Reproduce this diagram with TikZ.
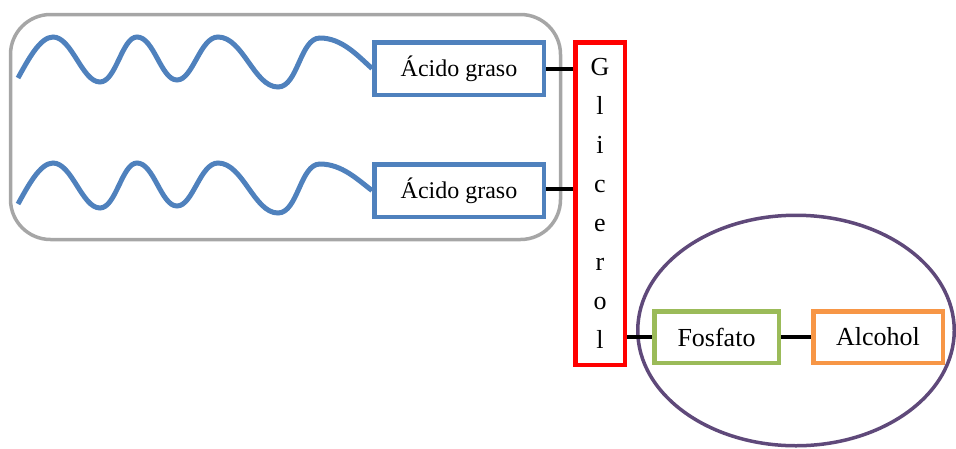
\documentclass[tikz,border=0pt]{standalone}
\usepackage{fontspec}
\setmainfont{Liberation Serif}
\usetikzlibrary{shapes.geometric,calc}
\definecolor{cblue}{HTML}{4F81BD}
\definecolor{cgray}{HTML}{A6A6A6}
\definecolor{cred}{HTML}{FF0000}
\definecolor{cgreen}{HTML}{9BBB59}
\definecolor{corange}{HTML}{F79646}
\definecolor{cpurple}{HTML}{5F497A}
\tikzset{
  box/.style={draw, line width=4.5pt, fill=white, inner sep=0pt, align=center},
  acid/.style={box, draw=cblue, minimum width=169.5pt, minimum height=52.5pt, font=\fontsize{24}{28}\selectfont},
  wave/.style={draw=cblue, line width=5pt},
  link/.style={draw=black, line width=4pt},
}
\begin{document}
\begin{tikzpicture}[x=1pt,y=-1pt]
\useasboundingbox (0,0) rectangle (956,448);
% gray group
\draw[cgray, line width=3.5pt, rounded corners=40pt] (10.5,14.5) rectangle (560.5,239.5);
% ellipse group
\node[draw=cpurple, line width=3.5pt, ellipse, minimum width=316.5pt, minimum height=230.5pt, inner sep=0pt] (ell) at (796,330.5) {};
% nodes
\node[acid] (a1) at (459,68.5) {Ácido graso};
\node[acid] (a2) at (459,190.5) {Ácido graso};
\node[box, draw=cred, minimum width=49.5pt, minimum height=322.5pt, font=\fontsize{26}{39}\selectfont] (g) at (600,203.5) {G\\l\\i\\c\\e\\r\\o\\l};
\node[box, draw=cgreen, minimum width=124.5pt, minimum height=51.5pt, font=\fontsize{26}{30}\selectfont] (f) at (716.5,337) {Fosfato};
\node[box, draw=corange, minimum width=129.5pt, minimum height=51.5pt, font=\fontsize{26}{30}\selectfont] (al) at (878,337) {Alcohol};
% waves
\coordinate (w1) at (18,78);
\coordinate (w2) at (18,204);
\draw[wave] (w1) .. controls (28,60) and (40,37) .. (53,37)
  .. controls (72,37) and (82,82) .. (100,82)
  .. controls (116,82) and (122,37) .. (137,37)
  .. controls (154,37) and (161,80) .. (177,80)
  .. controls (193,80) and (200,37) .. (218,37)
  .. controls (243,37) and (254,87) .. (278,87)
  .. controls (298,87) and (300,38) .. (320,38)
  .. controls (342,38) and (358,56) .. (a1.west);
\draw[wave] (w2) .. controls (28,186) and (40,163) .. (53,163)
  .. controls (72,163) and (82,208) .. (100,208)
  .. controls (116,208) and (122,163) .. (137,163)
  .. controls (154,163) and (161,206) .. (177,206)
  .. controls (193,206) and (200,163) .. (218,163)
  .. controls (243,163) and (254,213) .. (278,213)
  .. controls (298,213) and (300,164) .. (320,164)
  .. controls (342,164) and (358,180) .. (a2.west);
% connectors
\draw[link] (a1.east) -- (a1.east -| g.west);
\draw[link] ($(a2.east)+(0,-2)$) -- ($(a2.east -| g.west)+(0,-2)$);
\draw[link] (g.east |- f.west) -- (f.west);
\draw[link] (f.east) -- (al.west);
\end{tikzpicture}
\end{document}
